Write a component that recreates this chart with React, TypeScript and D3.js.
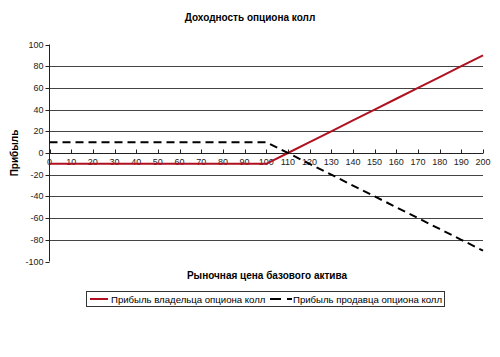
import React from "react";
import * as d3 from "d3";

const prices = [0, 10, 20, 30, 40, 50, 60, 70, 80, 90, 100, 110, 120, 130, 140, 150, 160, 170, 180, 190, 200];
const buyerProfit = [-10, -10, -10, -10, -10, -10, -10, -10, -10, -10, -10, 0, 10, 20, 30, 40, 50, 60, 70, 80, 90];
const sellerProfit = [10, 10, 10, 10, 10, 10, 10, 10, 10, 10, 10, 0, -10, -20, -30, -40, -50, -60, -70, -80, -90];
const yTicks = [100, 80, 60, 40, 20, 0, -20, -40, -60, -80, -100];
const xTicks = prices;

const title = "Доходность опциона колл";
const xTitle = "Рыночная цена базового актива";
const yTitle = "Прибыль";
const seriesNames = ["Прибыль владельца опциона колл", "Прибыль продавца опциона колл"];

export default function App() {
  const W = 500, H = 357;
  const x = d3.scaleLinear().domain([0, 200]).range([49.5, 483]);
  const y = d3.scaleLinear().domain([-100, 100]).range([261.5, 44.5]);
  const line = d3.line<number>().x((_, i) => x(prices[i])).y((d) => y(d));
  const font = "Liberation Sans, Arial, sans-serif";
  const y0 = Math.round(y(0)) + 0.5;
  return (
    <svg width={W} height={H} style={{ position: "absolute", left: 0, top: 0 }} fontFamily={font}>
      <rect width={W} height={H} fill="#fff" />
      <text x={250} y={21} textAnchor="middle" fontSize={10} fontWeight="bold">{title}</text>
      {yTicks.filter((t) => t !== 0 && Math.abs(t) !== 100).map((t) => (
        <line key={t} x1={x(0)} x2={x(200)} y1={Math.round(y(t)) + 0.5} y2={Math.round(y(t)) + 0.5} stroke="#444" strokeWidth={1} />
      ))}
      <line x1={x(0)} x2={x(0)} y1={y(100)} y2={y(-100)} stroke="#222" />
      {yTicks.map((t) => (
        <g key={t}>
          <line x1={x(0) - 4} x2={x(0)} y1={Math.round(y(t)) + 0.5} y2={Math.round(y(t)) + 0.5} stroke="#222" />
          <text x={x(0) - 6} y={y(t) + 3} textAnchor="end" fontSize={9} fill="#222">{t}</text>
        </g>
      ))}
      <line x1={x(0)} x2={x(200)} y1={y0} y2={y0} stroke="#222" />
      {xTicks.map((t) => (
        <g key={t}>
          <line x1={Math.round(x(t)) + 0.5} x2={Math.round(x(t)) + 0.5} y1={y0 - 4} y2={y0} stroke="#222" />
          <text x={x(t)} y={y0 + 11} textAnchor="middle" fontSize={9} fill="#222">{t}</text>
        </g>
      ))}
      <path d={line(buyerProfit) || ""} fill="none" stroke="#b01020" strokeWidth={2} />
      <path d={line(sellerProfit) || ""} fill="none" stroke="#000" strokeWidth={2} strokeDasharray="8,5" />
      <text x={18} y={153} textAnchor="middle" fontSize={10} fontWeight="bold" transform="rotate(-90,18,153)">{yTitle}</text>
      <text x={267} y={279} textAnchor="middle" fontSize={10} fontWeight="bold">{xTitle}</text>
      <rect x={86.5} y={291.5} width={358} height={15} fill="#fff" stroke="#333" />
      <line x1={90} x2={108} y1={299} y2={299} stroke="#b01020" strokeWidth={2} />
      <text x={111} y={302.5} fontSize={9.6}>{seriesNames[0]}</text>
      <line x1={270} x2={292} y1={299} y2={299} stroke="#000" strokeWidth={2} strokeDasharray="11,6" />
      <text x={293} y={302.5} fontSize={9.6}>{seriesNames[1]}</text>
    </svg>
  );
}
